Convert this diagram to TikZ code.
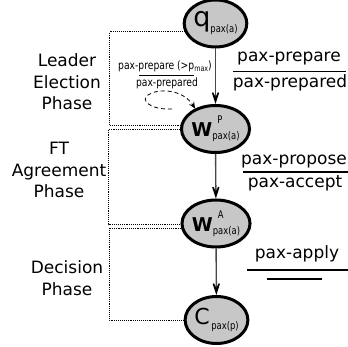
\documentclass[tikz,border=0pt]{standalone}
\usepackage{fontspec}
\setmainfont{DejaVu Sans}
\newfontfamily\condfont[FakeStretch=0.8]{DejaVu Sans}
\usetikzlibrary{arrows.meta,shapes.geometric}

% small condensed text used for indices and the loop label
\newcommand\idx[1]{{\condfont\fontsize{10.5}{10.5}\selectfont #1}}

\begin{document}
\begin{tikzpicture}[x=1pt,y=-1pt,
  state/.style={ellipse, draw=black, line width=3pt, fill=black!22,
    minimum width=58pt, minimum height=47pt, inner sep=0pt},
  flow/.style={draw=black!72, line width=1.4pt,
    -{Stealth[length=20pt,width=13pt,inset=13pt,color=black]}},
  loopflow/.style={draw=black, line width=0.8pt, dash pattern=on 4pt off 3pt,
    -{Stealth[length=7pt,width=6pt,inset=3pt]}},
  phase/.style={align=center, inner sep=0pt, font=\fontsize{17}{21.5}\selectfont},
  msg/.style={inner sep=0pt, anchor=base, font=\fontsize{17}{20}\selectfont},
  smallmsg/.style={inner sep=0pt, anchor=base, font=\condfont\fontsize{11.5}{12}\selectfont},
  bound/.style={draw=black, line width=0.9pt, densely dotted},
  rule/.style={draw=black, line width=1.2pt},
  thinrule/.style={draw=black, line width=0.8pt}
]
\useasboundingbox (0,0) rectangle (348,347);

% states
\node[state] (q)  at (215.5,23.5) {{\fontsize{27}{27}\selectfont q}\raisebox{-6pt}{\idx{pax(a)}}};
\node[state] (wp) at (215.5,129)  {{\bfseries\fontsize{19}{19}\selectfont W}\rlap{\hspace{5pt}\raisebox{13pt}{\idx{P}}}\raisebox{-3pt}{\idx{pax(a)}}};
\node[state] (wa) at (216,223.5)  {{\bfseries\fontsize{19}{19}\selectfont W}\rlap{\hspace{5pt}\raisebox{13pt}{\idx{A}}}\raisebox{-3pt}{\idx{pax(a)}}};
\node[state] (c)  at (216.5,320)  {{\fontsize{22}{22}\selectfont C}\,\raisebox{-5pt}{\idx{pax(p)}}};

% transitions
\draw[flow] (q) -- (wp);
\draw[flow] (wp) -- (wa);
\draw[flow] (wa) -- (c);

% retry loop on the prepare state
\coordinate (loopstart) at (172,109);
\draw[loopflow] (loopstart) .. controls (150,110) and (140,100) .. (148,95)
  .. controls (158,88) and (183,89) .. (wp.135);
\node[smallmsg] (loopnum) at (165,69.5) {pax-prepare (>p\raisebox{-2.5pt}{\fontsize{8}{8}\selectfont max})};
\node[smallmsg] (loopden) at (167,87) {pax-prepared};
\coordinate (lr1) at (139,75);
\coordinate (lr2) at (194,75);
\draw[thinrule] (lr1) -- (lr2);

% phase brackets
\coordinate (rail1) at (109.5,0);
\coordinate (rail2) at (108.5,0);
\coordinate (rail3) at (109,0);
\draw[bound] (q.195) -- (q.195 -| rail1) -- (wp.174 -| rail1) -- (wp.174);
\draw[bound] (wp.180) -- (wp.180 -| rail2) -- (wa.182 -| rail2) -- (wa.182);
\draw[bound] (wa.188) -- (wa.188 -| rail3) -- (c.west -| rail3) -- (c.west);

% phase names
\node[phase] (ple) at (67,82)  {Leader\\Election\\Phase};
\node[phase] (pft) at (59,170) {FT\\Agreement\\Phase};
\node[phase] (pdc) at (67,278) {Decision\\Phase};

% messages of each phase
\node[msg] (m1n) at (289,62) {pax-prepare};
\node[msg] (m1d) at (290,88) {pax-prepared};
\coordinate (r1a) at (233,71.5);
\coordinate (r1b) at (346,71.5);
\draw[rule] (r1a) -- (r1b);

\node[msg] (m2n) at (294,165) {pax-propose};
\node[msg] (m2d) at (295,188) {pax-accept};
\coordinate (r2a) at (243,172);
\coordinate (r2b) at (348,172);
\draw[rule] (r2a) -- (r2b);

\node[msg] (m3n) at (297,259) {pax-apply};
\coordinate (r3a) at (247,270);
\coordinate (r3b) at (348,270);
\draw[rule] (r3a) -- (r3b);
\coordinate (r4a) at (267,279);
\coordinate (r4b) at (322,279);
\draw[rule] (r4a) -- (r4b);
\end{tikzpicture}
\end{document}
